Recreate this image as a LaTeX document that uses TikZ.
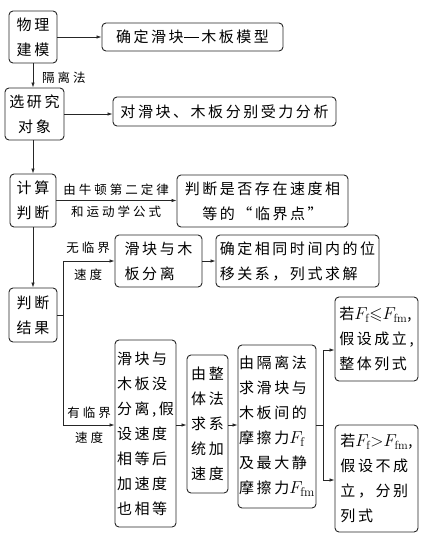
\documentclass[tikz,border=0pt]{standalone}
\usepackage{fontspec}
\usepackage{amssymb}
\newfontfamily\zh[LetterSpace=17]{Noto Sans CJK SC}
\newfontfamily\zhl[LetterSpace=24]{Noto Sans CJK SC}
\usetikzlibrary{arrows.meta}
\newcommand{\bigF}[1]{{\fontsize{18}{25}\selectfont$F_{\mathrm{#1}}$}}
\begin{document}
\begin{tikzpicture}[x=1pt,y=-1pt,
  box/.style={draw=black!85,line width=0.9pt,rounded corners=4pt,inner sep=0pt,
    font=\zh\fontsize{15}{25}\selectfont},
  lab/.style={inner sep=0pt,font=\zhl\fontsize{12.5}{21}\selectfont},
  arr/.style={draw=black!85,line width=0.8pt,-{Latex[length=5pt,width=3.5pt]}},
  ln/.style={draw=black!85,line width=0.8pt}]
\useasboundingbox (0,0) rectangle (421,536);
% left column
\node[box,minimum width=48pt,minimum height=52pt,align=center] (b1) at (33,37) {物理\\建模};
\node[box,minimum width=59pt,minimum height=52pt,align=center] (b2) at (34.5,114) {选研究\\对象};
\node[box,minimum width=46pt,minimum height=53pt,align=center] (b3) at (33,200.5) {计算\\判断};
\node[box,minimum width=48pt,minimum height=54pt,align=center] (b4) at (33,315) {判断\\结果};
% right boxes
\node[box,minimum width=181pt,minimum height=28pt] (m1) at (192.5,37) {确定滑块\rule[0.33em]{1em}{0.7pt}\hspace{2.5pt}木板模型};
\node[box,minimum width=223pt,minimum height=29pt] (m2) at (224.5,111.5) {对滑块、木板分别受力分析};
\node[box,minimum width=171pt,minimum height=52pt,align=center] (m3) at (262.5,201) {判断是否存在速度相\\等的“临界点”};
\node[box,minimum width=87pt,minimum height=52pt,align=left] (t1) at (158.5,261) {滑块与木\\板分离};
\node[box,minimum width=163pt,minimum height=52pt,align=left] (t2) at (297.5,261) {确定相同时间内的位\\移关系，列式求解};
\node[box,minimum width=61pt,minimum height=187pt,align=left] (s1) at (145.5,433.5) {滑块与\\木板没\\分离,假\\设速度\\相等后\\加速度\\也相等};
\node[box,minimum width=41pt,minimum height=138pt,align=left] (s2) at (207.5,424) {由整\\体法\\求系\\统加\\速度};
\node[box,minimum width=78pt,minimum height=163pt,align=left] (s3) at (277,426.5) {由隔离法\\求滑块与\\木板间的\\摩擦力\bigF{f}\\及最大静\\摩擦力\bigF{fm}};
\node[box,minimum width=83pt,minimum height=84pt,align=left] (r1) at (376.5,339) {若{\fontsize{17}{25}\selectfont$F_{\mathrm f}{\leqslant}F_{\mathrm{fm}}$},\\假设成立,\\整体列式};
\node[box,minimum width=83pt,minimum height=107pt,align=left] (r2) at (376.5,478.5) {若{\fontsize{17}{25}\selectfont$F_{\mathrm f}{>}F_{\mathrm{fm}}$},\\假设不成\\立，分别\\列式};
% labels
\node[lab,anchor=west] (l1) at (42,78) {隔离法};
\node[lab] (l2) at (116,190) {由牛顿第二定律};
\node[lab] (l3) at (116,212) {和运动学公式};
\node[lab] (l4) at (88,248) {无临界};
\node[lab] (l5) at (88,275) {速度};
\node[lab] (l6) at (89,413) {有临界};
\node[lab] (l7) at (89,438) {速度};
% junctions
\coordinate (j1) at (63,315);
\coordinate (j2) at (63,425);
\coordinate (j3) at (323,425);
\coordinate (k1) at (323,350);
\coordinate (k2) at (323,480);
% connectors
\draw[arr] (b1.east) -- (m1.west);
\draw[arr] (b1.south) -- (b1.south |- b2.north);
\draw[arr] (b2.east) -- (b2.east -| m2.west);
\draw[arr] (b2.south -| b3.north) -- (b3.north);
\draw[arr] (b3.east) -- (b3.east -| m3.west);
\draw[arr] (b3.south) -- (b4.north);
\draw[ln] (b4.east |- j1) -- (j1);
\draw[arr] (j1) |- (t1.west);
\draw[arr] (j1) -- (j2) -- (j2 -| s1.west);
\draw[arr] (t1.east) -- (t2.west);
\draw[arr] (s1.east |- j2) -- (j2 -| s2.west);
\draw[arr] (s2.east |- j2) -- (j2 -| s3.west);
\draw[ln] (s3.east |- j3) -- (j3);
\draw[arr] (j3) -- (k1) -- (k1 -| r1.west);
\draw[arr] (j3) -- (k2) -- (k2 -| r2.west);
\end{tikzpicture}
\end{document}
